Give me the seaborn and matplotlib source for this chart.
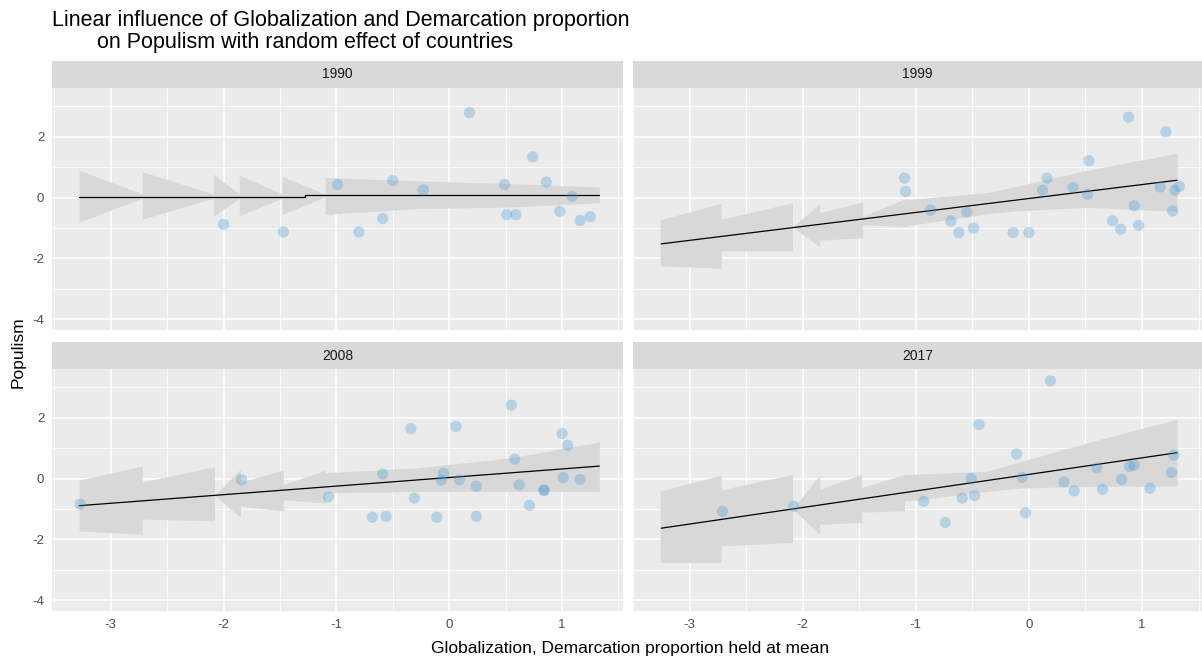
import numpy as np
import pandas as pd
import matplotlib
matplotlib.use("Agg")
import matplotlib.pyplot as plt
import seaborn as sns

# ---------------- data ----------------
years = ["1990", "1999", "2008", "2017"]

pts_x_1990 = [-2.00, -1.47, -0.99, -0.80, -0.59, -0.50, -0.23, 0.18, 0.49, 0.51, 0.59, 0.74, 0.86, 0.98, 1.09, 1.16, 1.25]
pts_y_1990 = [-0.88, -1.13, 0.43, -1.13, -0.69, 0.56, 0.25, 2.79, 0.43, -0.56, -0.56, 1.34, 0.51, -0.45, 0.04, -0.75, -0.63]

pts_x_1999 = [-1.10, -1.09, -0.87, -0.69, -0.62, -0.55, -0.49, -0.14, 0.00, 0.12, 0.16, 0.39, 0.52, 0.53, 0.74, 0.81, 0.88, 0.93, 0.97, 1.16, 1.21, 1.27, 1.29, 1.33]
pts_y_1999 = [0.64, 0.20, -0.41, -0.77, -1.15, -0.48, -1.00, -1.15, -1.15, 0.24, 0.64, 0.33, 0.11, 1.21, -0.76, -1.04, 2.64, -0.27, -0.91, 0.35, 2.16, -0.44, 0.24, 0.37]

pts_x_2008 = [-3.27, -1.84, -1.07, -0.68, -0.59, -0.56, -0.34, -0.31, -0.11, -0.07, -0.05, 0.06, 0.09, 0.24, 0.24, 0.55, 0.58, 0.62, 0.71, 0.84, 0.84, 1.00, 1.01, 1.05, 1.16]
pts_y_2008 = [-0.84, -0.04, -0.60, -1.27, 0.15, -1.24, 1.64, -0.64, -1.27, -0.05, 0.18, 1.71, -0.04, -0.25, -1.24, 2.41, 0.64, -0.21, -0.88, -0.40, -0.37, 1.48, 0.03, 1.09, -0.03]

pts_x_2017 = [-2.71, -2.08, -0.93, -0.74, -0.59, -0.51, -0.48, -0.44, -0.11, -0.06, -0.03, 0.19, 0.31, 0.40, 0.60, 0.65, 0.82, 0.89, 0.93, 1.07, 1.26, 1.28]
pts_y_2017 = [-1.08, -0.91, -0.75, -1.44, -0.64, 0.00, -0.56, 1.77, 0.81, 0.04, -1.12, 3.21, -0.11, -0.40, 0.35, -0.35, -0.03, 0.40, 0.44, -0.32, 0.20, 0.77]

# fitted lines
line_x_1990 = [-3.28, -1.28, -1.28, 1.33]
line_y_1990 = [0.03, 0.03, 0.08, 0.08]
line_x_1999 = [-3.25, 1.31]
line_y_1999 = [-1.52, 0.57]
line_x_2008 = [-3.28, 1.33]
line_y_2008 = [-0.89, 0.41]
line_x_2017 = [-3.25, 1.31]
line_y_2017 = [-1.63, 0.85]

# confidence ribbons (vertices)
rib_x_1990 = [-3.28, -2.72, -2.72, -2.09, -2.09, -1.86, -1.86, -1.48, -1.48, -1.10, -1.10, -0.29, 0.54, 1.33]
rib_hi_1990 = [0.90, 0.12, 0.85, 0.12, 0.77, 0.12, 0.74, 0.12, 0.70, 0.12, 0.66, 0.55, 0.46, 0.35]
rib_lo_1990 = [-0.80, -0.02, -0.71, -0.02, -0.62, -0.02, -0.60, -0.02, -0.55, 0.02, -0.55, -0.36, -0.31, -0.17]

rib_x_1999 = [-3.26, -2.72, -2.72, -2.09, -2.09, -1.85, -1.85, -1.47, -1.47, -1.10, -1.06, -0.35, -0.13, 0.52, 1.31]
rib_hi_1999 = [-0.73, -0.19, -0.71, -0.17, -0.97, -0.20, -0.50, -0.14, -0.62, -0.05, -0.06, 0.17, 0.36, 0.90, 1.46]
rib_lo_1999 = [-2.24, -2.32, -1.75, -1.75, -0.97, -1.62, -1.40, -1.32, -0.89, -0.95, -0.92, -0.52, -0.44, -0.32, -0.45]

rib_x_2008 = [-3.28, -2.72, -2.72, -2.08, -2.08, -1.85, -1.85, -1.47, -1.47, -1.10, -1.10, -0.29, 0.54, 1.33]
rib_hi_2008 = [-0.05, 0.41, -0.11, 0.39, -0.55, 0.31, -0.12, 0.28, -0.20, 0.28, 0.19, 0.35, 0.68, 1.21]
rib_lo_2008 = [-1.72, -1.83, -1.33, -1.39, -0.55, -1.28, -0.90, -1.06, -0.70, -0.80, -0.47, -0.42, -0.42, -0.42]

rib_x_2017 = [-3.26, -2.72, -2.72, -2.09, -2.09, -1.85, -1.85, -1.48, -1.48, -1.10, -1.10, -0.37, -0.06, 0.57, 1.31]
rib_hi_2017 = [-0.41, 0.11, -0.37, 0.14, -1.00, 0.11, -0.35, 0.14, -0.30, 0.14, 0.13, 0.24, 0.57, 1.23, 1.95]
rib_lo_2017 = [-2.75, -2.75, -2.21, -2.10, -1.00, -1.83, -1.50, -1.44, -1.10, -1.06, -0.75, -0.42, -0.31, -0.25, -0.25]

x_ticks = [-3, -2, -1, 0, 1]
y_ticks = [-4, -2, 0, 2]
title_line1 = "Linear influence of Globalization and Demarcation proportion"
title_line2 = "on Populism with random effect of countries"
x_label = "Globalization, Demarcation proportion held at mean"
y_label = "Populism"

points = pd.concat([
    pd.DataFrame({"year": "1990", "x": pts_x_1990, "y": pts_y_1990}),
    pd.DataFrame({"year": "1999", "x": pts_x_1999, "y": pts_y_1999}),
    pd.DataFrame({"year": "2008", "x": pts_x_2008, "y": pts_y_2008}),
    pd.DataFrame({"year": "2017", "x": pts_x_2017, "y": pts_y_2017}),
])
lines = {"1990": (line_x_1990, line_y_1990), "1999": (line_x_1999, line_y_1999),
         "2008": (line_x_2008, line_y_2008), "2017": (line_x_2017, line_y_2017)}
ribbons = {"1990": (rib_x_1990, rib_lo_1990, rib_hi_1990),
           "1999": (rib_x_1999, rib_lo_1999, rib_hi_1999),
           "2008": (rib_x_2008, rib_lo_2008, rib_hi_2008),
           "2017": (rib_x_2017, rib_lo_2017, rib_hi_2017)}

# ---------------- style ----------------
sns.set_style("darkgrid")
plt.rcParams["font.family"] = ["Liberation Sans", "DejaVu Sans"]
plt.rcParams["axes.unicode_minus"] = False

W, H = 1202, 662
fig = plt.figure(figsize=(W / 100, H / 100), dpi=100)
fig.patch.set_facecolor("white")

# panel boxes in pixels: (x0, y0, x1, y1) from top-left
panels = {"1990": (52, 88, 623, 330), "1999": (633, 88, 1202, 330),
          "2008": (52, 369, 623, 611), "2017": (633, 369, 1202, 611)}
xlims = {"1990": (-3.52, 1.54), "2008": (-3.52, 1.54),
         "1999": (-3.494, 1.53), "2017": (-3.494, 1.53)}
ylim = (-4.35, 3.6)
strip_h = 27

grey_text = "#4D4D4D"

for yr in years:
    x0, y0, x1, y1 = panels[yr]
    ax = fig.add_axes([x0 / W, 1 - y1 / H, (x1 - x0) / W, (y1 - y0) / H])
    ax.set_facecolor("#EBEBEB")
    for s in ax.spines.values():
        s.set_visible(False)
    ax.set_xlim(*xlims[yr])
    ax.set_ylim(*ylim)
    ax.set_xticks(x_ticks)
    ax.set_yticks(y_ticks)
    ax.set_xticks([-3.5, -2.5, -1.5, -0.5, 0.5, 1.5], minor=True)
    ax.set_yticks([-3, -1, 1, 3], minor=True)
    ax.grid(True, which="major", color="white", linewidth=1.1)
    ax.grid(True, which="minor", color="white", linewidth=0.55)
    ax.set_axisbelow(True)

    rx, rlo, rhi = ribbons[yr]
    ax.fill_between(rx, rlo, rhi, color="#D8D8D8", linewidth=0, zorder=2)

    lx, ly = lines[yr]
    sns.lineplot(x=lx, y=ly, ax=ax, color="black", linewidth=0.9,
                 estimator=None, sort=False, zorder=3)

    sns.scatterplot(data=points[points["year"] == yr], x="x", y="y", ax=ax,
                    color="#4A9BD6", alpha=0.33, s=66, edgecolor="none",
                    linewidth=0, zorder=4)

    ax.set_xlabel("")
    ax.set_ylabel("")
    left = yr in ("1990", "2008")
    bottom = yr in ("2008", "2017")
    ax.tick_params(axis="x", which="major", length=3.5 if bottom else 0,
                   color="#333333", width=0.8, labelbottom=bottom,
                   labelsize=9.5, labelcolor=grey_text, pad=2)
    ax.tick_params(axis="y", which="major", length=3.5 if left else 0,
                   color="#333333", width=0.8, labelleft=left,
                   labelsize=9.5, labelcolor=grey_text, pad=2)
    ax.tick_params(which="minor", length=0)

    # strip
    sax = fig.add_axes([x0 / W, 1 - y0 / H, (x1 - x0) / W, strip_h / H])
    sax.set_facecolor("#D9D9D9")
    sax.set_xticks([])
    sax.set_yticks([])
    for s in sax.spines.values():
        s.set_visible(False)
    sax.text(0.5, 0.5, yr, ha="center", va="center", fontsize=10,
             color="#1A1A1A", transform=sax.transAxes)

fig.text(52 / W, 1 - 26 / H, title_line1, ha="left", va="baseline",
         fontsize=15.5, color="black")
fig.text(97 / W, 1 - 48 / H, title_line2, ha="left", va="baseline",
         fontsize=15.5, color="black")
fig.text(630 / W, 1 - 648 / H, x_label, ha="center", va="center",
         fontsize=12.5, color="black")
fig.text(18 / W, 1 - 352 / H, y_label, ha="center", va="center",
         rotation=90, fontsize=12.5, color="black")

fig.savefig("out.png", dpi=100, facecolor="white")
